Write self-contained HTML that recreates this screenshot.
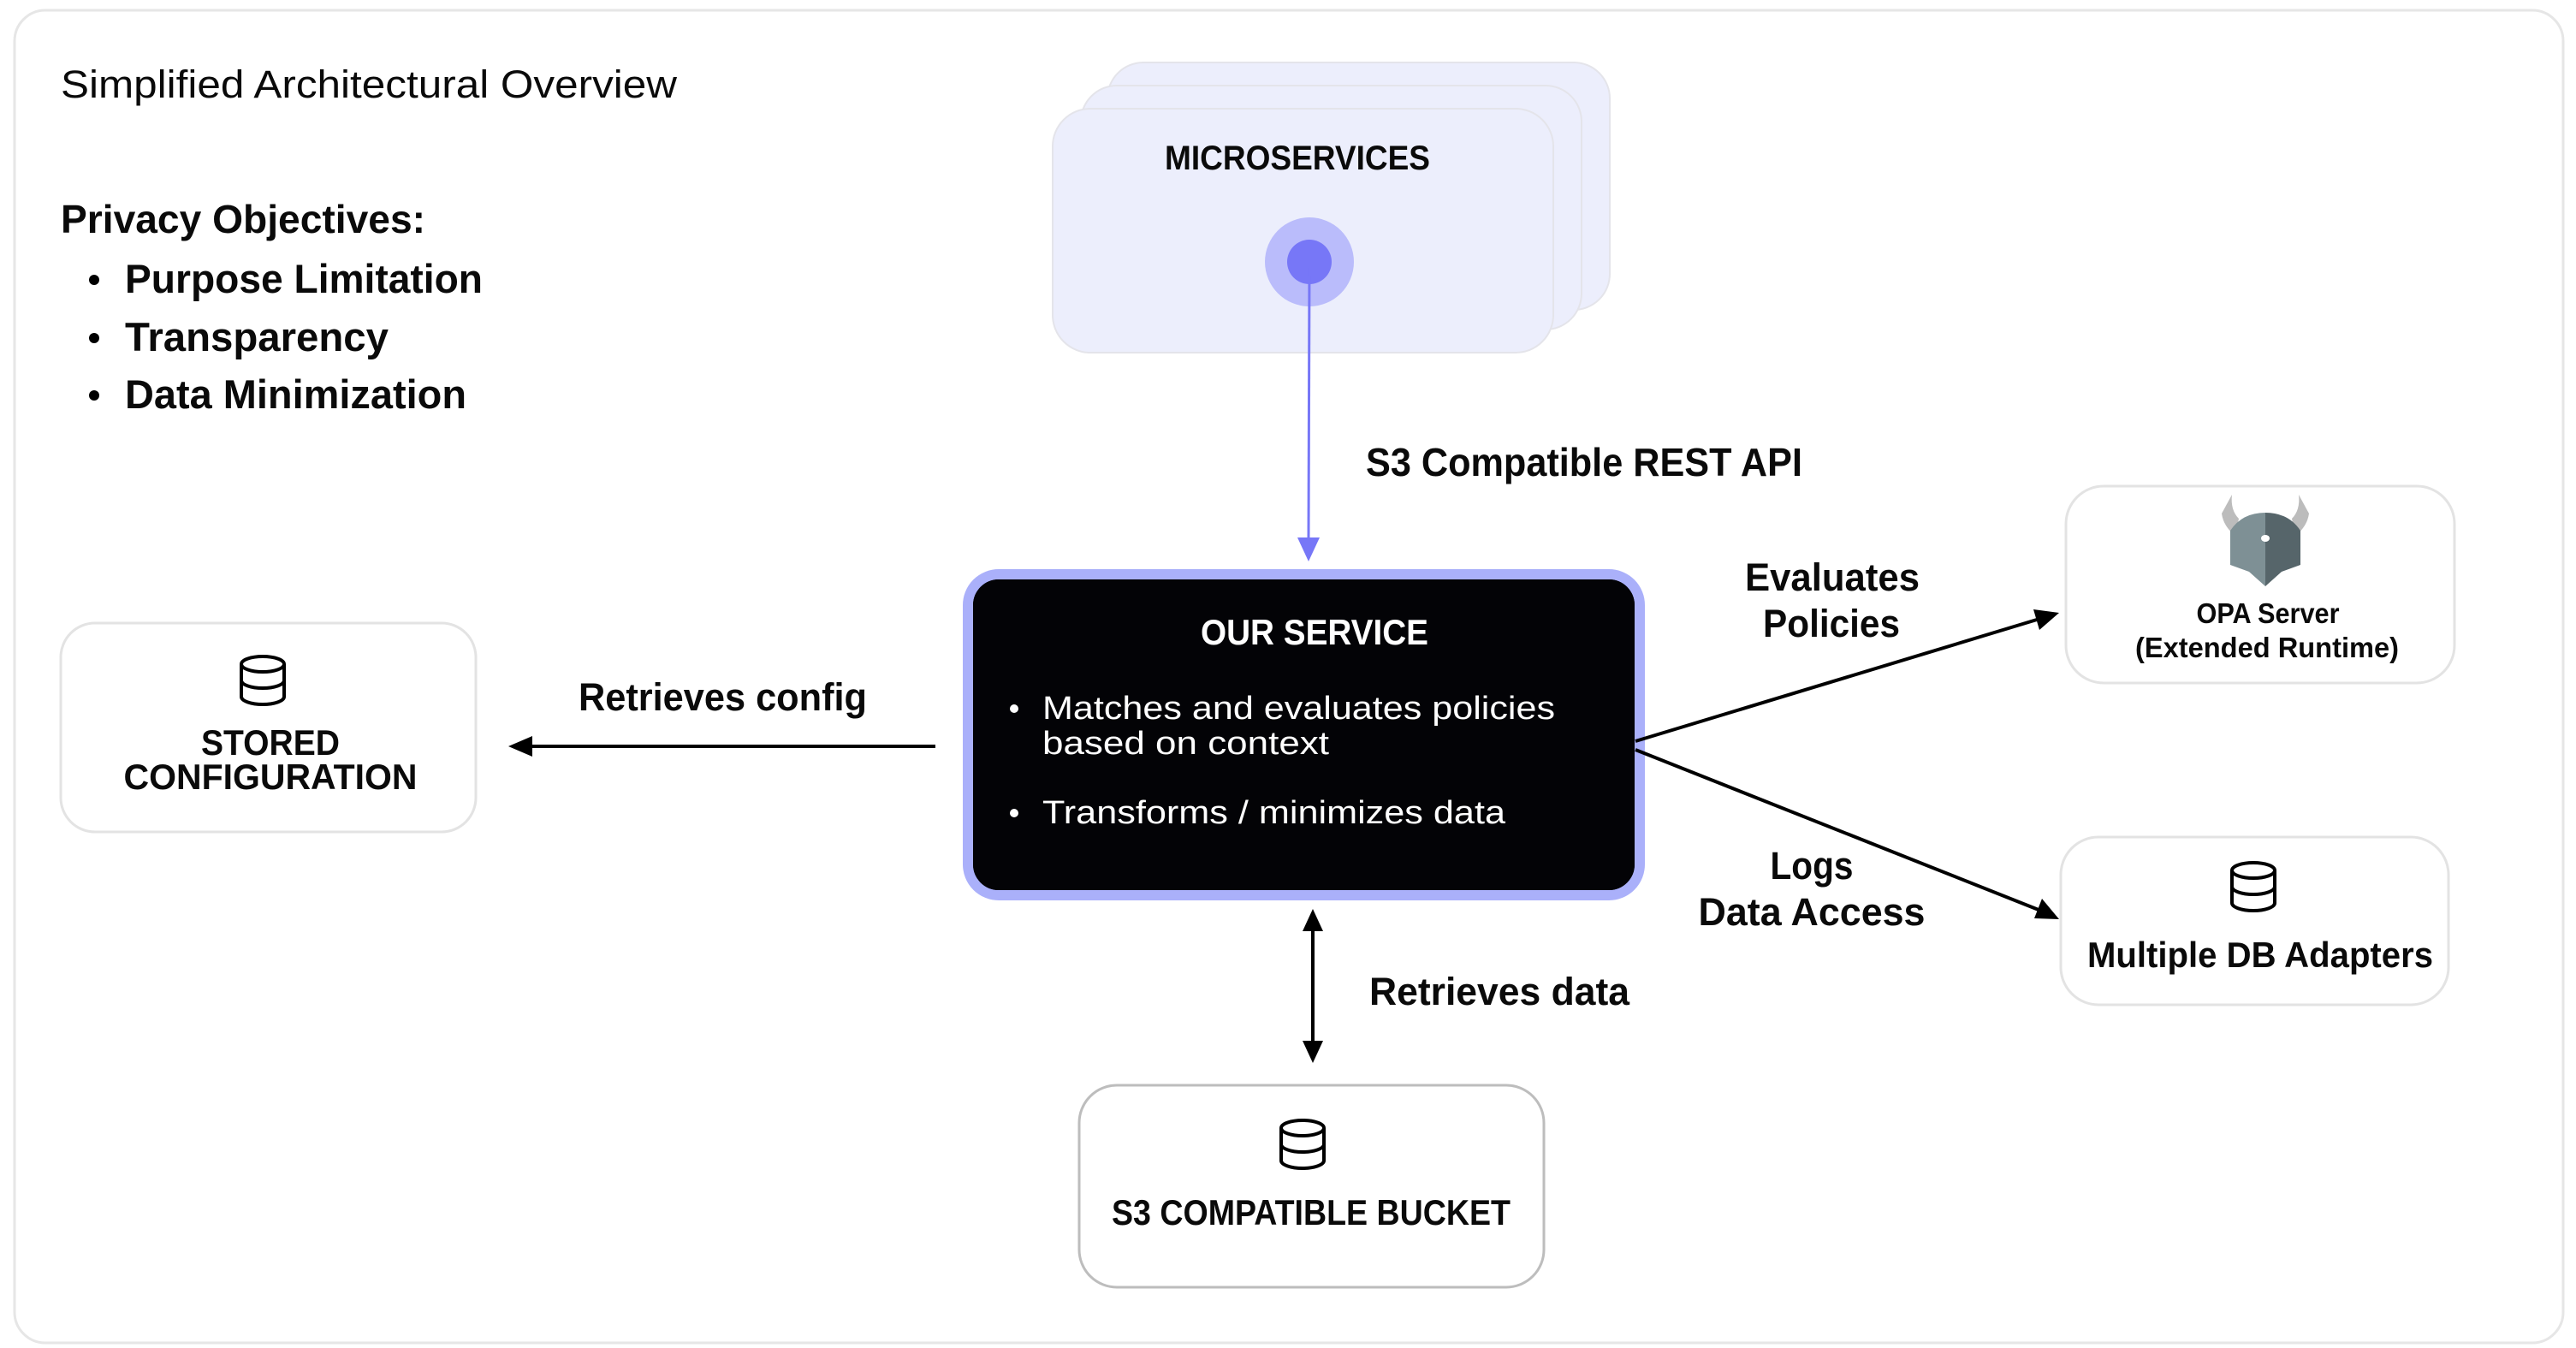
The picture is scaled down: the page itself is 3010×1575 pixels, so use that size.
<!DOCTYPE html>
<html><head><meta charset="utf-8"><style>
html,body{margin:0;padding:0;background:#fff;}
svg{display:block;}
text{font-family:"Liberation Sans",sans-serif;fill:#0a0a0a;}
</style></head><body>
<svg width="3010" height="1575" viewBox="0 0 3010 1575" xmlns="http://www.w3.org/2000/svg">
<defs>
<g id="db" fill="none" stroke="#000" stroke-width="4">
<ellipse cx="0" cy="-19" rx="25" ry="9"/>
<path d="M-25,-19 V19 A25,9 0 0 0 25,19 V-19"/>
<path d="M-25,0 A25,9 0 0 0 25,0"/>
</g>
</defs>
<rect x="17" y="12" width="2978" height="1557" rx="36" fill="#fff" stroke="#e6e6e6" stroke-width="3"/>

<text x="71" y="114" font-size="45" textLength="720" lengthAdjust="spacingAndGlyphs">Simplified Architectural Overview</text>
<text x="71" y="272" font-size="46" font-weight="bold" textLength="426" lengthAdjust="spacingAndGlyphs">Privacy Objectives:</text>
<g font-size="47" font-weight="bold">
<circle cx="110" cy="327" r="6" fill="#000"/><text x="146" y="342" textLength="418" lengthAdjust="spacingAndGlyphs">Purpose Limitation</text>
<circle cx="110" cy="395" r="6" fill="#000"/><text x="146" y="410" textLength="308" lengthAdjust="spacingAndGlyphs">Transparency</text>
<circle cx="110" cy="462" r="6" fill="#000"/><text x="146" y="477" textLength="399" lengthAdjust="spacingAndGlyphs">Data Minimization</text>
</g>

<!-- microservices stack -->
<rect x="1294" y="73" width="587" height="289" rx="42" fill="#eceefc" stroke="#e4e4ea" stroke-width="2"/>
<rect x="1263" y="100" width="585" height="285" rx="42" fill="#eceefc" stroke="#e4e4ea" stroke-width="2"/>
<rect x="1230" y="127" width="585" height="285" rx="44" fill="#eceefc" stroke="#e4e4ea" stroke-width="2"/>
<text x="1361" y="198" font-size="40" font-weight="bold" textLength="310" lengthAdjust="spacingAndGlyphs">MICROSERVICES</text>
<circle cx="1530" cy="306" r="52" fill="#babcfb"/>
<circle cx="1530" cy="306" r="26" fill="#7777f7"/>
<line x1="1530" y1="308" x2="1529" y2="630" stroke="#7777f7" stroke-width="3"/>
<polygon points="1516,628 1542,628 1529,656" fill="#7777f7"/>
<text x="1596" y="556" font-size="46" font-weight="bold" textLength="510" lengthAdjust="spacingAndGlyphs">S3 Compatible REST API</text>

<!-- our service -->
<rect x="1131" y="671" width="785" height="375" rx="36" fill="#000" stroke="#aab0fa" stroke-width="12"/>
<rect x="1137" y="677" width="773" height="363" rx="30" fill="#030306"/>
<text x="1536" y="753" font-size="42" font-weight="bold" text-anchor="middle" style="fill:#fff" textLength="266" lengthAdjust="spacingAndGlyphs">OUR SERVICE</text>
<g font-size="38" style="fill:#fff">
<circle cx="1185" cy="828" r="5" fill="#fff"/>
<text x="1218" y="840" style="fill:#fff" textLength="599" lengthAdjust="spacingAndGlyphs">Matches and evaluates policies</text>
<text x="1218" y="881" style="fill:#fff" textLength="335" lengthAdjust="spacingAndGlyphs">based on context</text>
<circle cx="1185" cy="950" r="5" fill="#fff"/>
<text x="1218" y="962" style="fill:#fff" textLength="541" lengthAdjust="spacingAndGlyphs">Transforms / minimizes data</text>
</g>

<!-- stored config -->
<rect x="71" y="728" width="485" height="244" rx="40" fill="#fff" stroke="#e3e3e3" stroke-width="3"/>
<use href="#db" x="307" y="795"/>
<g font-size="42" font-weight="bold" text-anchor="middle">
<text x="316" y="882" textLength="162" lengthAdjust="spacingAndGlyphs">STORED</text>
<text x="316" y="922" textLength="343" lengthAdjust="spacingAndGlyphs">CONFIGURATION</text>
</g>
<line x1="1093" y1="872" x2="620" y2="872" stroke="#000" stroke-width="4"/>
<polygon points="594,872 622,860 622,884" fill="#000"/>
<text x="676" y="830" font-size="45" font-weight="bold" textLength="337" lengthAdjust="spacingAndGlyphs">Retrieves config</text>

<!-- OPA -->
<rect x="2414" y="568" width="454" height="230" rx="44" fill="#fff" stroke="#e3e3e3" stroke-width="3"/>
<path d="M2608,578 L2596,600 Q2598,615 2612,626 L2616,606 Q2606,596 2608,578 Z" fill="#bcbcbc"/>
<path d="M2686,578 L2698,600 Q2696,615 2682,626 L2678,606 Q2688,596 2686,578 Z" fill="#bcbcbc"/>
<path d="M2606,620 Q2620,599 2647,599 L2647,685 L2628,668 L2606,660 Z" fill="#7e9095"/>
<path d="M2688,620 Q2674,599 2647,599 L2647,685 L2666,668 L2688,660 Z" fill="#56656a"/>
<ellipse cx="2647" cy="629" rx="5" ry="4" fill="#fff"/>
<g font-size="33" font-weight="bold" text-anchor="middle">
<text x="2650" y="728" textLength="167" lengthAdjust="spacingAndGlyphs">OPA Server</text>
<text x="2649" y="768" textLength="308" lengthAdjust="spacingAndGlyphs">(Extended Runtime)</text>
</g>
<line x1="1911" y1="866" x2="2380" y2="724" stroke="#000" stroke-width="4"/>
<polygon points="2406,716 2376,712 2383,736" fill="#000"/>
<g font-size="45" font-weight="bold" text-anchor="middle">
<text x="2141" y="690" textLength="204" lengthAdjust="spacingAndGlyphs">Evaluates</text>
<text x="2140" y="744" textLength="160" lengthAdjust="spacingAndGlyphs">Policies</text>
</g>

<!-- DB adapters -->
<rect x="2408" y="978" width="453" height="196" rx="44" fill="#fff" stroke="#e3e3e3" stroke-width="3"/>
<use href="#db" x="2633" y="1036"/>
<text x="2641" y="1130" font-size="42" font-weight="bold" text-anchor="middle" textLength="404" lengthAdjust="spacingAndGlyphs">Multiple DB Adapters</text>
<line x1="1911" y1="876" x2="2382" y2="1063" stroke="#000" stroke-width="4"/>
<polygon points="2406,1074 2386,1050 2377,1073" fill="#000"/>
<g font-size="45" font-weight="bold" text-anchor="middle">
<text x="2117" y="1027" textLength="97" lengthAdjust="spacingAndGlyphs">Logs</text>
<text x="2117" y="1081" textLength="265" lengthAdjust="spacingAndGlyphs">Data Access</text>
</g>

<!-- bucket -->
<line x1="1534" y1="1085" x2="1534" y2="1218" stroke="#000" stroke-width="4"/>
<polygon points="1534,1062 1522,1088 1546,1088" fill="#000"/>
<polygon points="1534,1242 1522,1216 1546,1216" fill="#000"/>
<text x="1600" y="1174" font-size="45" font-weight="bold" textLength="304" lengthAdjust="spacingAndGlyphs">Retrieves data</text>
<rect x="1261" y="1268" width="543" height="236" rx="44" fill="#fff" stroke="#bdbdbd" stroke-width="3"/>
<use href="#db" x="1522" y="1337"/>
<text x="1532" y="1431" font-size="42" font-weight="bold" text-anchor="middle" textLength="466" lengthAdjust="spacingAndGlyphs">S3 COMPATIBLE BUCKET</text>
</svg>
</body></html>
